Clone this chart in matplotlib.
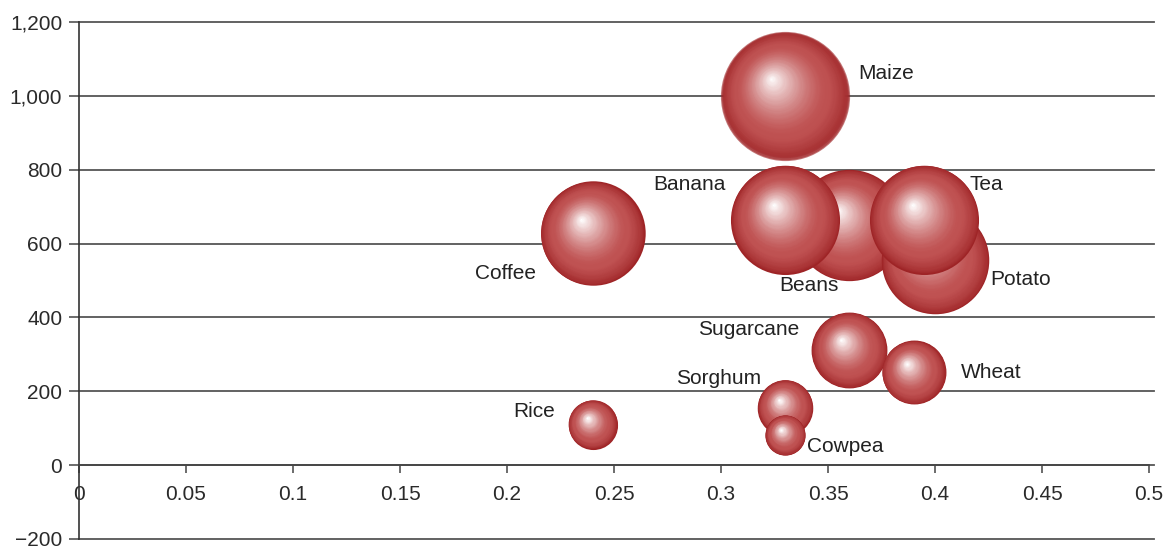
import numpy as np
import matplotlib.pyplot as plt
from matplotlib import transforms
from matplotlib.ticker import FuncFormatter, MultipleLocator

plt.rcParams['font.family'] = ['Liberation Sans', 'DejaVu Sans']

# crops, in drawing order (back to front)
crops = ['Maize', 'Beans', 'Banana', 'Potato', 'Tea', 'Coffee',
         'Sugarcane', 'Wheat', 'Sorghum', 'Cowpea', 'Rice']
xval = [0.33, 0.36, 0.33, 0.40, 0.395, 0.24, 0.36, 0.39, 0.33, 0.33, 0.24]
yval = [1000, 650, 665, 555, 665, 628, 312, 252, 156, 82, 110]
bsize = [100, 74, 71, 69, 71, 65, 34, 24, 18, 9.3, 14]

# label offsets (pixels) and alignment for each crop name
label_off = {
    'Maize': (73, 22, 'left'), 'Banana': (-60, 35, 'right'),
    'Beans': (-41, -60, 'center'), 'Tea': (45, 35, 'left'),
    'Potato': (55, -19, 'left'), 'Coffee': (-57, -40, 'right'),
    'Sugarcane': (-50, 20, 'right'), 'Wheat': (47, 0, 'left'),
    'Sorghum': (-24, 29, 'right'), 'Cowpea': (22, -12, 'left'),
    'Rice': (-38, 13, 'right'),
}

edge = np.array([0.62, 0.14, 0.15])
mid = np.array([0.75, 0.32, 0.32])
white = np.array([1.0, 1.0, 1.0])

fig = plt.figure(figsize=(11.64, 5.5), dpi=100)
ax = fig.add_axes([79 / 1164, 11 / 550, 1075 / 1164, 517 / 550])
ax.set_xlim(0, 0.5023)
ax.set_ylim(-200, 1200)


def shade(t):
    c = edge + (mid - edge) * min(t / 0.25, 1.0) ** 0.7
    if t > 0.3:
        w = ((t - 0.3) / 0.7) ** 1.4
        c = c * (1 - w) + white * w
    return c


def bubble(x, y, r, alpha=1.0, layers=70):
    # shaded sphere: shrinking discs drifting toward the highlight
    hx, hy = -0.22 * r, 0.27 * r
    for k in range(layers):
        t = k / (layers - 1)
        rad = r * (1 - t) + 0.6
        tr = transforms.offset_copy(ax.transData, fig, x=hx * t, y=hy * t,
                                    units='dots')
        ax.scatter([x], [y], s=(2 * rad * 0.72) ** 2, color=shade(t),
                   linewidths=0, alpha=alpha, transform=tr, zorder=3)


for name, x, y, sz in zip(crops, xval, yval, bsize):
    r = 64 * np.sqrt(sz / 100)
    bubble(x, y, r, alpha=0.62 if name == 'Maize' else 1.0)
    dx, dy, ha = label_off[name]
    ax.annotate(name, (x, y), xytext=(dx, dy), textcoords='offset pixels',
                ha=ha, va='center', fontsize=15, color='#222222', zorder=4)

# axes styling
for s in ['top', 'right']:
    ax.spines[s].set_visible(False)
ax.spines['left'].set_color('#333333')
ax.spines['left'].set_linewidth(1.2)
ax.spines['bottom'].set_position(('data', 0))
ax.spines['bottom'].set_bounds(0, 0.5)
ax.spines['bottom'].set_color('#444444')
ax.spines['bottom'].set_linewidth(1.2)

ax.xaxis.set_major_locator(MultipleLocator(0.05))
ax.yaxis.set_major_locator(MultipleLocator(200))
ax.xaxis.set_major_formatter(FuncFormatter(lambda v, p: f'{v:g}'))
ax.yaxis.set_major_formatter(
    FuncFormatter(lambda v, p: f'{v:,.0f}'.replace('-', '\u2212')))
ax.tick_params(axis='x', direction='out', length=6, width=1.1,
               color='#444444', labelsize=15, labelcolor='#2a2a2a', pad=8)
ax.tick_params(axis='y', direction='out', length=7, width=1.1,
               color='#444444', labelsize=15, labelcolor='#2a2a2a', pad=5)

ax.yaxis.grid(True, color='#555555', linewidth=1.3, zorder=1)
for gl in ax.yaxis.get_gridlines():
    gl.set_clip_on(False)
ax.set_axisbelow(True)

fig.savefig('out.png', dpi=100)
